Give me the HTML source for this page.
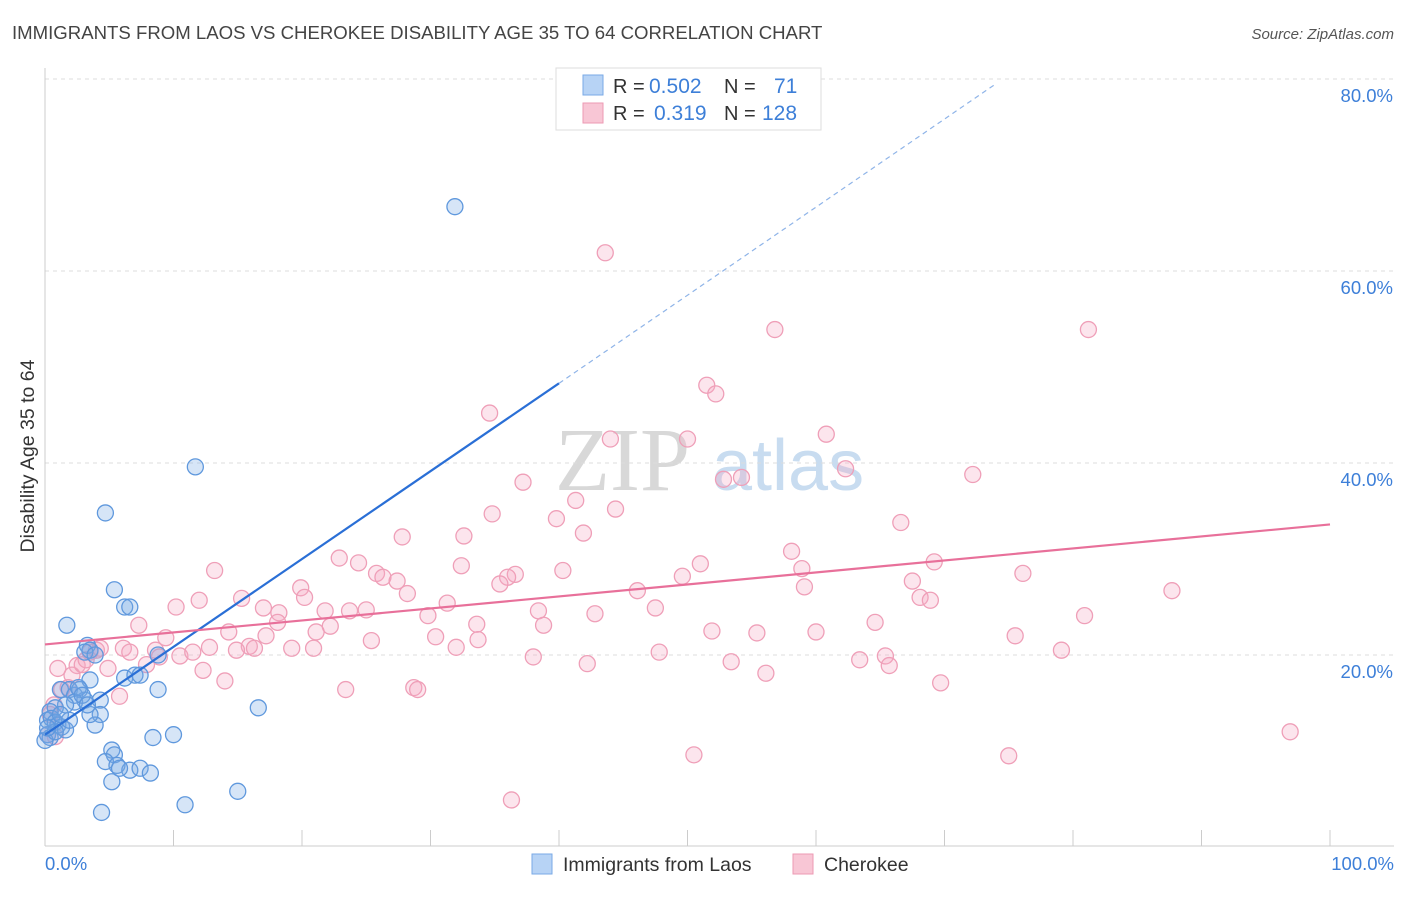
<!DOCTYPE html>
<html><head><meta charset="utf-8"><style>
body{margin:0;background:#fff;font-family:"Liberation Sans",sans-serif;}
svg text{font-family:"Liberation Sans",sans-serif;}
</style></head><body>
<svg id="chart" width="1406" height="892" viewBox="0 0 1406 892" xmlns="http://www.w3.org/2000/svg">
<text x="12" y="39" font-size="18.6" fill="#444">IMMIGRANTS FROM LAOS VS CHEROKEE DISABILITY AGE 35 TO 64 CORRELATION CHART</text>
<text x="1394" y="39" font-size="15" fill="#555" text-anchor="end" font-style="italic">Source: ZipAtlas.com</text>
<g>
<text x="555" y="490" font-size="90" fill="#d8d8d8" style="font-family:'Liberation Serif',serif">ZIP</text>
<text x="712" y="490" font-size="72" fill="#c8dcf0">atlas</text>
</g>
<g id="grid"></g>
<g id="axes"></g>
<g id="pts"></g>
<g id="lines"></g>
<text transform="translate(34,456) rotate(-90)" font-size="19.5" fill="#333" text-anchor="middle">Disability Age 35 to 64</text>
<g>
<rect x="556" y="68" width="265" height="62" fill="#fff" stroke="#ddd"/>
<rect x="583" y="75" width="20" height="20" fill="#b7d3f5" stroke="#7aaae6"/>
<rect x="583" y="103" width="20" height="20" fill="#f8c6d5" stroke="#ec9ab3"/>
<text x="613" y="93" font-size="20" fill="#333">R = </text><text x="649" y="93" font-size="21" fill="#3d7fd8">0.502</text>
<text x="724" y="93" font-size="20" fill="#333">N = </text><text x="774" y="93" font-size="21" fill="#3d7fd8">71</text>
<text x="613" y="120" font-size="20" fill="#333">R = </text><text x="654" y="120" font-size="21" fill="#3d7fd8">0.319</text>
<text x="724" y="120" font-size="20" fill="#333">N = </text><text x="762" y="120" font-size="21" fill="#3d7fd8">128</text>
</g>
<g>
<rect x="532" y="854" width="20" height="20" fill="#b7d3f5" stroke="#7aaae6"/>
<text x="563" y="871" font-size="19.5" fill="#333">Immigrants from Laos</text>
<rect x="793" y="854" width="20" height="20" fill="#f8c6d5" stroke="#ec9ab3"/>
<text x="824" y="871" font-size="19.5" fill="#333">Cherokee</text>
</g>
<text x="45" y="870" font-size="18.5" fill="#3d7fd8">0.0%</text>
<text x="1394" y="870" font-size="18.5" fill="#3d7fd8" text-anchor="end">100.0%</text>
</svg>
<script>
const yTicks=[20,40,60,80];
const yTickLabels=["20.0%","40.0%","60.0%","80.0%"];
const xTicks=[0,10,20,30,40,50,60,70,80,90,100];
const laosX=[31.9,11.7,4.7,5.4,6.2,6.6,1.7,3.3,3.5,3.1,3.9,8.8,1.2,1.9,2.3,2.7,3.5,6.2,7.0,7.4,8.8,4.3,3.1,2.3,1.6,0.8,0.4,0.2,0.5,0.8,1.0,1.3,0.2,0.4,0,4.3,3.9,3.5,16.6,5.2,5.4,4.7,5.6,6.6,5.8,7.4,8.2,5.2,8.4,10.0,10.9,15.0,4.4,1.6,1.9,1.2,2.6,2.9,3.3,0.8,0.2];
const laosY=[66.7,39.6,34.8,26.8,25.0,25.0,23.1,21.0,20.5,20.3,20.0,20.0,16.4,16.4,15.8,16.4,17.4,17.6,17.9,17.9,16.4,15.3,15.3,15.1,14.8,14.5,14.1,13.2,13.4,13.0,12.7,12.5,11.7,11.4,11.1,13.8,12.7,13.8,14.5,10.1,9.6,8.9,8.5,8.0,8.2,8.2,7.7,6.8,11.4,11.7,4.4,5.8,3.6,12.2,13.2,13.8,16.6,15.8,14.8,12.0,12.4];
const cherX=[43.6,56.8,81.2,51.5,52.2,34.6,60.8,44.0,50.0,62.3,72.2,52.8,54.2,37.2,41.3,44.4,34.8,39.8,66.6,41.9,27.8,32.6,58.1,22.9,24.4,51.0,32.4,40.3,76.1,69.2,25.8,26.3,27.4,36.6,36.0,49.6,58.9,13.2,19.9,28.2,35.4,67.5,20.2,59.1,68.1,68.9,87.7,46.1,15.3,31.3,10.2,17.0,47.5,21.8,23.7,25.0,12.0,38.4,18.2,42.8,29.8,80.9,64.6,38.8,33.6,22.2,18.1,7.3,14.3,51.9,55.4,60.0,75.5,9.4,30.4,33.7,17.2,21.1,25.4,32.0,6.1,8.6,12.8,19.2,20.9,15.9,16.3,14.9,10.5,11.5,38.0,47.8,63.4,65.4,79.1,4.0,4.3,6.6,8.9,2.5,1.0,2.1,2.9,4.9,7.9,12.3,1.3,1.8,14.0,56.1,65.7,53.4,42.2,23.4,28.7,29.0,69.7,0.7,0.4,5.8,0.8,0.2,50.5,75.0,96.9,36.3,3.2,3.5];
const cherY=[61.9,53.9,53.9,48.1,47.2,45.2,43.0,42.5,42.5,39.4,38.8,38.3,38.5,38.0,36.1,35.2,34.7,34.2,33.8,32.7,32.3,32.4,30.8,30.1,29.6,29.5,29.3,28.8,28.5,29.7,28.5,28.1,27.7,28.4,28.1,28.2,29.0,28.8,27.0,26.4,27.4,27.7,26.0,27.1,26.0,25.7,26.7,26.7,25.9,25.4,25.0,24.9,24.9,24.6,24.6,24.7,25.7,24.6,24.4,24.3,24.1,24.1,23.4,23.1,23.2,23.0,23.4,23.1,22.4,22.5,22.3,22.4,22.0,21.8,21.9,21.6,22.0,22.4,21.5,20.8,20.7,20.5,20.8,20.7,20.7,20.9,20.7,20.5,19.9,20.3,19.8,20.3,19.5,19.9,20.5,20.5,20.7,20.3,19.8,18.9,18.6,17.9,19.0,18.6,19.0,18.4,16.4,16.6,17.3,18.1,18.9,19.3,19.1,16.4,16.6,16.4,17.1,14.8,13.8,15.7,11.5,11.7,9.6,9.5,12.0,4.9,19.5,20.3];
const laosTrend=[[0,11.7],[40,48.3]];
const laosTrendExt=[[40,48.3],[74,79.5]];
const cherTrend=[[0,21.1],[100,33.6]];
const NS="http://www.w3.org/2000/svg";
const X=v=>45+v*12.85, Y=v=>847-v*9.6;
function mk(tag,attrs,parent){const e=document.createElementNS(NS,tag);for(const k in attrs)e.setAttribute(k,attrs[k]);parent.appendChild(e);return e;}
const gridG=document.getElementById('grid'),axesG=document.getElementById('axes'),ptsG=document.getElementById('pts'),linesG=document.getElementById('lines');
yTicks.forEach((t,i)=>{
 const l=mk('line',{x1:45,x2:1394,y1:Y(t),y2:Y(t),stroke:'#ddd','stroke-dasharray':'4,4'},gridG);
 
 
 const tx=mk('text',{x:1393,y:Y(t)+23,'font-size':18.5,fill:'#3d7fd8','text-anchor':'end'},axesG);
 tx.textContent=yTickLabels[i];
 
 
});
const ya=mk('line',{x1:45,x2:45,y1:68,y2:846,stroke:'#ccc'},axesG);


const xa=mk('line',{x1:45,x2:1394,y1:846,y2:846,stroke:'#ccc'},axesG);


xTicks.forEach(t=>{
 const tk=mk('line',{x1:X(t),x2:X(t),y1:830,y2:846,stroke:'#ccc'},axesG);
 
 
});
function dots(xs,ys,fill,stroke,name){
 xs.forEach((x,i)=>{
  const c=mk('circle',{cx:X(x),cy:Y(ys[i]),r:8,fill:fill,stroke:stroke,'stroke-width':1.3},ptsG);
  
  
 });
}
dots(cherX,cherY,'rgba(245,170,195,0.3)','#ef9fb8','cherokee-point');
dots(laosX,laosY,'rgba(120,170,230,0.3)','#5f98dd','laos-point');
const lt=mk('line',{x1:X(laosTrend[0][0]),y1:Y(laosTrend[0][1]),x2:X(laosTrend[1][0]),y2:Y(laosTrend[1][1]),stroke:'#2a6fd6','stroke-width':2.2},linesG);


const le=mk('line',{x1:X(laosTrendExt[0][0]),y1:Y(laosTrendExt[0][1]),x2:X(laosTrendExt[1][0]),y2:Y(laosTrendExt[1][1]),stroke:'#8fb4e8','stroke-width':1.2,'stroke-dasharray':'5,4'},linesG);


const ct=mk('line',{x1:X(cherTrend[0][0]),y1:Y(cherTrend[0][1]),x2:X(cherTrend[1][0]),y2:Y(cherTrend[1][1]),stroke:'#e8709a','stroke-width':2.2},linesG);


</script>
</body></html>
